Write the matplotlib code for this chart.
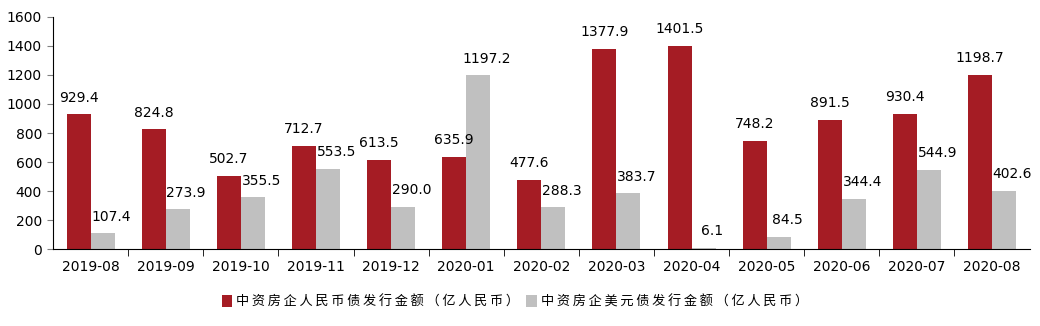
import matplotlib.pyplot as plt
import numpy as np

plt.rcParams['font.family'] = ['DejaVu Sans']

months = ['2019-08', '2019-09', '2019-10', '2019-11', '2019-12', '2020-01', '2020-02',
          '2020-03', '2020-04', '2020-05', '2020-06', '2020-07', '2020-08']
cny_bonds = [929.4, 824.8, 502.7, 712.7, 613.5, 635.9, 477.6,
             1377.9, 1401.5, 748.2, 891.5, 930.4, 1198.7]
usd_bonds = [107.4, 273.9, 355.5, 553.5, 290.0, 1197.2, 288.3,
             383.7, 6.1, 84.5, 344.4, 544.9, 402.6]
cny_name = '中资房企人民币债发行金额（亿人民币）'
usd_name = '中资房企美元债发行金额（亿人民币）'

red = '#A51C24'
grey = '#C0C0C0'
w = 0.32


def spaced(s):
    # loose letter spacing for the legend text (thin space comes from DejaVu)
    return '\u2009'.join(s)


fig = plt.figure(figsize=(10.4, 3.26), dpi=100)
ax = fig.add_axes([0.051, 0.236, 0.939, 0.712])

x = np.arange(len(months))
b1 = ax.bar(x - w / 2, cny_bonds, w, color=red, label=spaced(cny_name))
b2 = ax.bar(x + w / 2, usd_bonds, w, color=grey, label=spaced(usd_name))

for xi, v in zip(x, cny_bonds):
    ax.annotate(f'{v:.1f}', (xi - w / 2, v), xytext=(0, 7), textcoords='offset points',
                ha='center', va='bottom', fontsize=10)
for xi, v in zip(x, usd_bonds):
    ax.annotate(f'{v:.1f}', (xi + w / 2, v), xytext=(6, 7), textcoords='offset points',
                ha='center', va='bottom', fontsize=10)

ax.set_xlim(-0.5, len(months) - 0.5)
ax.set_ylim(0, 1600)
ax.set_yticks(range(0, 1601, 200))
ax.tick_params(axis='y', labelsize=10, length=4, color='#808080', pad=4)

# month labels centred, tick marks between groups
ax.set_xticks(x)
ax.set_xticklabels(months, fontsize=10)
ax.tick_params(axis='x', which='major', length=0, pad=8)
ax.set_xticks(x[:-1] + 0.5, minor=True)
ax.tick_params(axis='x', which='minor', length=5, color='black', direction='out')

for s in ['top', 'right']:
    ax.spines[s].set_visible(False)
ax.spines['left'].set_color('black')
ax.spines['bottom'].set_color('black')

fig.legend(handles=[b1, b2], loc='center', bbox_to_anchor=(0.495, 0.075), ncol=2,
           frameon=False, prop={'family': ['Noto Sans CJK SC', 'DejaVu Sans'], 'size': 9.5},
           handlelength=0.8, handleheight=1.0, handletextpad=0.3, columnspacing=0.5)

fig.savefig('out.png', dpi=100)
